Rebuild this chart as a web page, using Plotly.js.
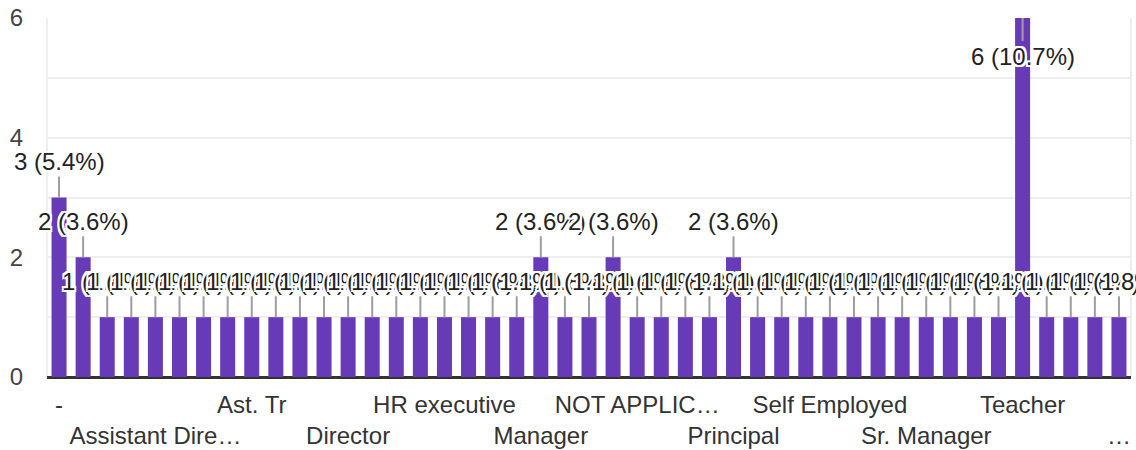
<!DOCTYPE html>
<html>
<head>
<meta charset="utf-8">
<script src="https://cdn.plot.ly/plotly-3.0.1.min.js"></script>
<style>html,body{margin:0;padding:0;background:#fff;}#chart{width:1136px;height:450px;}</style>
</head>
<body>
<div id="chart"></div>
<script>
// Categories (alphabetical, as in the source); only every 4th name is readable in the picture
const categories = [
  '-', 'Accountant', 'Admin', 'Assistant', 'Assistant Director',
  'Assistant Manager', 'Assistant Professor', 'Associate', 'Ast. Tr', 'Business Owner',
  'Clerk', 'Consultant', 'Director', 'Engineer', 'Executive',
  'HOD', 'HR executive', 'Head', 'Homemaker', 'Lecturer',
  'Manager', 'Manager HR', 'Marketing', 'NA', 'NOT APPLICABLE',
  'Nil', 'None', 'Officer', 'Principal', 'Professor',
  'Retired', 'Sales Executive', 'Self Employed', 'Senior Executive', 'Software Engineer',
  'Sr. Executive', 'Sr. Manager', 'Student', 'Supervisor', 'TGT',
  'Teacher', 'Team Lead', 'Trainer', 'Vice Principal', 'Working in a private organisation'
];
const counts = [
  3, 2, 1, 1, 1,
  1, 1, 1, 1, 1,
  1, 1, 1, 1, 1,
  1, 1, 1, 1, 1,
  2, 1, 1, 2, 1,
  1, 1, 1, 2, 1,
  1, 1, 1, 1, 1,
  1, 1, 1, 1, 1,
  6, 1, 1, 1, 1
];
const tickCategories = ['-', 'Assistant Director', 'Ast. Tr', 'Director', 'HR executive', 'Manager',
  'NOT APPLICABLE', 'Principal', 'Self Employed', 'Sr. Manager', 'Teacher', 'Working in a private organisation'];
const tickLabels = ['-', 'Assistant Dire\u2026', 'Ast. Tr', 'Director', 'HR executive', 'Manager',
  'NOT APPLIC\u2026', 'Principal', 'Self Employed', 'Sr. Manager', 'Teacher', '\u2026'];
const yTickVals = [0, 1, 2, 3, 4, 5, 6];
const yTickText = ['0', '', '2', '', '4', '', '6'];

const total = counts.reduce((a, b) => a + b, 0);
const maxVal = Math.max(...counts);
const FONT = 'Arial, "Liberation Sans", sans-serif';
const halo = ['2px 0 0 #fff','-2px 0 0 #fff','0 2px 0 #fff','0 -2px 0 #fff',
  '2px 2px 0 #fff','-2px -2px 0 #fff','2px -2px 0 #fff','-2px 2px 0 #fff'].join(', ');

const annotations = categories.map((c, i) => {
  const v = counts[i];
  const pct = (v / total * 100).toFixed(1);
  return {
    x: c, y: v, xref: 'x', yref: 'y',
    text: v + ' (' + pct + '%)',
    showarrow: true, arrowhead: 0, arrowwidth: 2, arrowcolor: '#9e9e9e',
    ax: 0, ay: v === maxVal ? 38 : -36, standoff: 0,
    font: {family: FONT, size: 24, color: '#222', shadow: halo}
  };
});

const trace = {
  type: 'bar', x: categories, y: counts,
  marker: {color: '#673ab7'},
  hoverinfo: 'none'
};

const layout = {
  width: 1136, height: 450,
  margin: {l: 47, r: 5, t: 18, b: 73},
  paper_bgcolor: '#fff', plot_bgcolor: '#fff',
  bargap: 0.377,
  showlegend: false,
  font: {family: FONT, size: 24, color: '#333'},
  xaxis: {
    type: 'category', automargin: false,
    range: [-0.5, categories.length - 0.5], autorange: false,
    tickvals: tickCategories,
    ticktext: tickLabels.map((t, i) => (i % 2 === 1 ? '<br>' : '') + t),
    tickangle: 0,
    ticks: 'outside', ticklen: 6, tickcolor: 'rgba(0,0,0,0)',
    tickfont: {family: FONT, size: 24, color: '#333'},
    showgrid: false, zeroline: false, showline: false
  },
  yaxis: {
    range: [0, 6], autorange: false, automargin: false,
    tickvals: yTickVals, ticktext: yTickText,
    ticks: 'outside', ticklen: 18, tickcolor: 'rgba(0,0,0,0)',
    tickfont: {family: FONT, size: 24, color: '#444'},
    showgrid: true, gridcolor: '#eeeeee', gridwidth: 2,
    zeroline: true, zerolinecolor: '#333', zerolinewidth: 3,
    showline: false
  },
  shapes: [
    {type: 'line', xref: 'paper', yref: 'paper', x0: 0, x1: 0, y0: 0, y1: 1, line: {color: '#eeeeee', width: 2}, layer: 'below'},
    {type: 'line', xref: 'paper', yref: 'paper', x0: 1, x1: 1, y0: 0, y1: 1, line: {color: '#eeeeee', width: 2}, layer: 'below'}
  ],
  annotations: annotations
};

Plotly.newPlot('chart', [trace], layout, {staticPlot: true, displayModeBar: false});
</script>
</body>
</html>
